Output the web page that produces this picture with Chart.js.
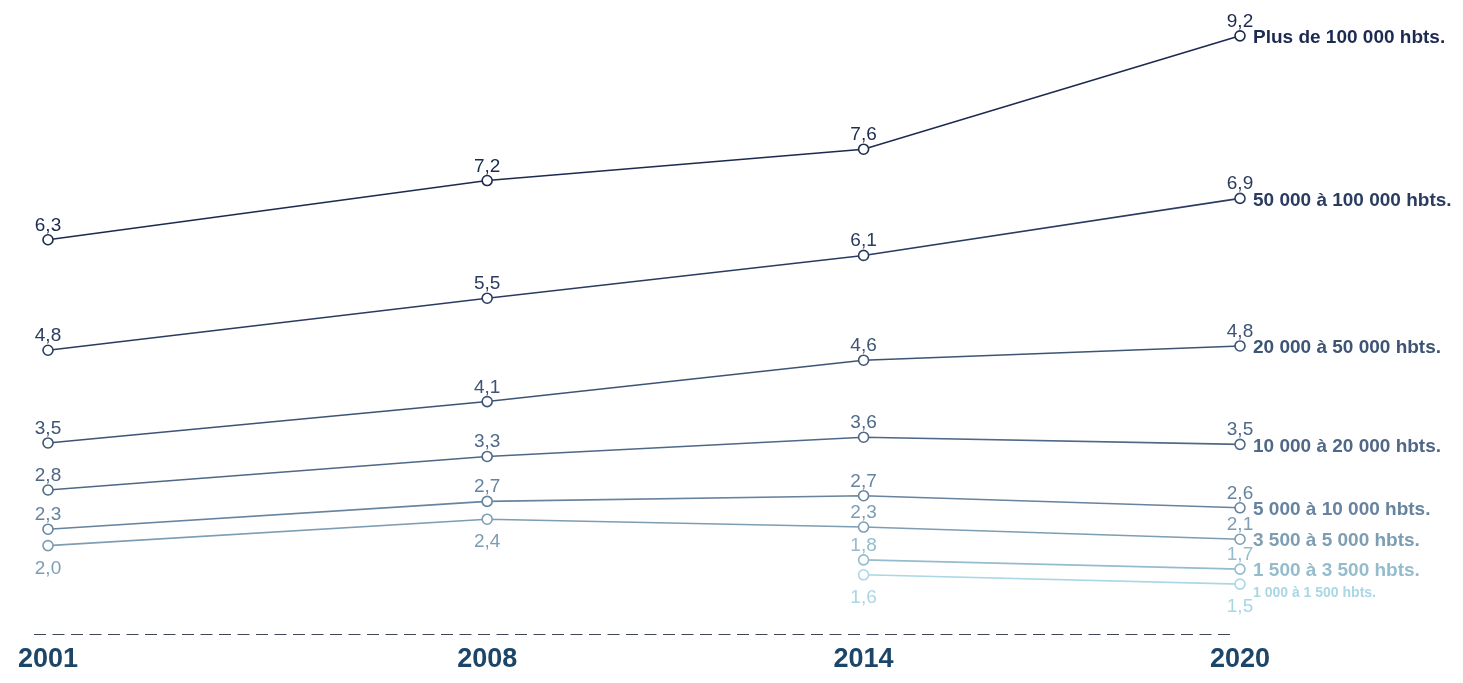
<!DOCTYPE html>
<html>
<head>
<meta charset="utf-8">
<script src="https://cdn.jsdelivr.net/npm/chart.js@4.4.0/dist/chart.umd.min.js"></script>
<style>
html,body{margin:0;padding:0;background:#fff;}
#wrap{width:1463px;height:683px;position:relative;}
</style>
</head>
<body>
<div id="wrap"><canvas id="c"></canvas></div>
<script>
const years = [2001, 2008, 2014, 2020];
const seriesNames = [
  "Plus de 100 000 hbts.",
  "50 000 à 100 000 hbts.",
  "20 000 à 50 000 hbts.",
  "10 000 à 20 000 hbts.",
  "5 000 à 10 000 hbts.",
  "3 500 à 5 000 hbts.",
  "1 500 à 3 500 hbts.",
  "1 000 à 1 500 hbts."
];
const s100k   = [6.33, 7.16, 7.60, 9.19];
const s50k    = [4.78, 5.51, 6.11, 6.91];
const s20k    = [3.48, 4.06, 4.64, 4.84];
const s10k    = [2.82, 3.29, 3.56, 3.46];
const s5k     = [2.27, 2.66, 2.74, 2.57];
const s3500   = [2.04, 2.41, 2.30, 2.13];
const s1500   = [null, null, 1.84, 1.71];
const s1000   = [null, null, 1.63, 1.50];
const seriesValues = [s100k, s50k, s20k, s10k, s5k, s3500, s1500, s1000];

const colors = ['#1c2a4f','#2b3c61','#3d5475','#4f6887','#66839f','#7d9db3','#94bccd','#a9d7e5'];
const labelBelow = [
  [false,false,false,false],
  [false,false,false,false],
  [false,false,false,false],
  [false,false,false,false],
  [false,false,false,false],
  [true,true,false,false],
  [false,false,false,false],
  [false,false,true,true]
];
const nameSizes = [19,19,19,19,19,19,19,14];
const FONT = "Arial, 'Liberation Sans', Helvetica, sans-serif";

const datasets = seriesValues.map((vals, i) => ({
  label: seriesNames[i],
  data: years.map((y, j) => ({x: y, y: vals[j]})),
  borderColor: colors[i],
  backgroundColor: '#ffffff',
  borderWidth: 1.6,
  pointRadius: 5,
  pointBorderWidth: 1.6,
  pointBackgroundColor: '#ffffff',
  pointBorderColor: colors[i],
  tension: 0,
  spanGaps: false,
  clip: false
}));

const labelPlugin = {
  id: 'labels',
  beforeDatasetsDraw(chart) {
    const ctx = chart.ctx, a = chart.chartArea;
    ctx.save();
    ctx.strokeStyle = '#3f4656';
    ctx.lineWidth = 1.2;
    ctx.setLineDash([12, 6.5]);
    ctx.beginPath();
    ctx.moveTo(a.left - 14, a.bottom + 0.5);
    ctx.lineTo(a.right - 10, a.bottom + 0.5);
    ctx.stroke();
    ctx.restore();
  },
  afterDatasetsDraw(chart) {
    const ctx = chart.ctx;
    ctx.save();
    chart.data.datasets.forEach((ds, i) => {
      const meta = chart.getDatasetMeta(i);
      meta.data.forEach((pt, j) => {
        const v = seriesValues[i][j];
        if (v === null || v === undefined) return;
        const txt = (Math.round(v * 10) / 10).toFixed(1).replace('.', ',');
        ctx.font = '19px ' + FONT;
        ctx.fillStyle = colors[i];
        ctx.textAlign = 'center';
        ctx.textBaseline = 'alphabetic';
        if (labelBelow[i][j]) ctx.fillText(txt, pt.x, pt.y + 28);
        else ctx.fillText(txt, pt.x, pt.y - 9);
      });
      let last = null;
      meta.data.forEach((pt, j) => { if (seriesValues[i][j] !== null) last = pt; });
      if (last) {
        ctx.font = 'bold ' + nameSizes[i] + 'px ' + FONT;
        ctx.fillStyle = colors[i];
        ctx.textAlign = 'left';
        ctx.textBaseline = 'middle';
        const dy = nameSizes[i] < 16 ? 9 : 2;
        ctx.fillText(seriesNames[i], last.x + 13, last.y + dy);
      }
    });
    ctx.restore();
  }
};

new Chart(document.getElementById('c'), {
  type: 'line',
  data: { datasets },
  options: {
    responsive: true,
    maintainAspectRatio: false,
    animation: false,
    layout: { padding: { left: 48, right: 223, top: 6, bottom: 0 } },
    plugins: { legend: { display: false }, tooltip: { enabled: false } },
    scales: {
      x: {
        type: 'linear',
        min: 2001,
        max: 2020,
        afterBuildTicks: (s) => { s.ticks = years.map(v => ({ value: v })); },
        afterFit: (s) => { s.height = 49; },
        grid: { display: false, drawTicks: false },
        border: { display: false },
        ticks: {
          padding: 9,
          color: '#1d4568',
          font: { family: FONT, size: 27, weight: 'bold' },
          callback: (v) => String(v),
          maxRotation: 0,
          autoSkip: false
        }
      },
      y: {
        display: false,
        min: 0.8,
        max: 9.6
      }
    }
  },
  plugins: [labelPlugin]
});
</script>
</body>
</html>
